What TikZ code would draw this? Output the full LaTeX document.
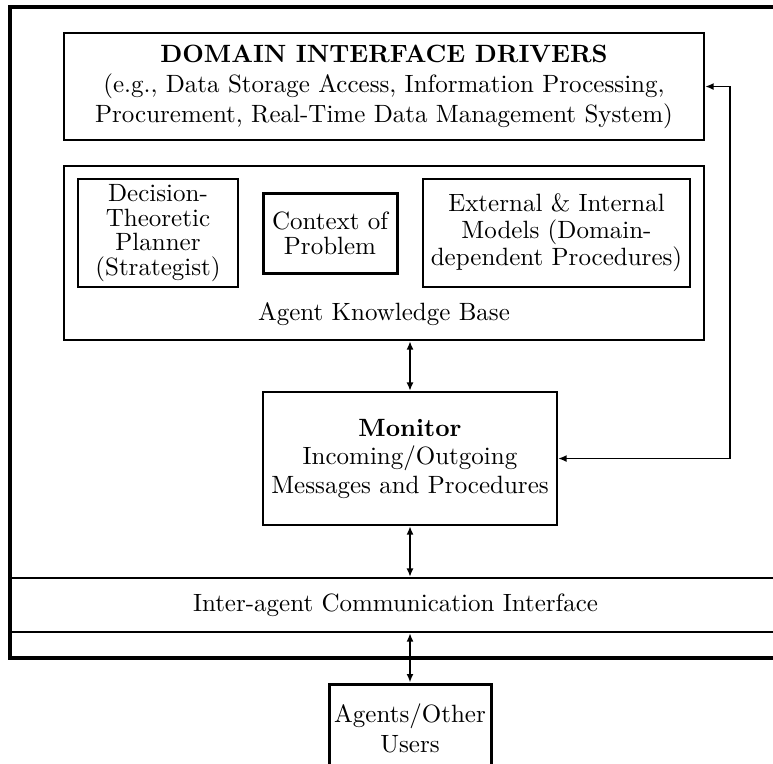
\documentclass[tikz,border=0pt]{standalone}
\usepackage{amsmath}
\usepackage{tikz}
\usetikzlibrary{arrows.meta}

\begin{document}
\begin{tikzpicture}[x=0.4pt, y=-0.4pt, thick,
    box/.style={draw, line width=0.9pt, align=center, inner sep=0pt},
    heavybox/.style={box, line width=1.2pt},
    link/.style={line width=0.75pt, {Latex[length=3.4pt,width=2.8pt]}-{Latex[length=3.4pt,width=2.8pt]}}]
          % Page size and crop
          \useasboundingbox (0,0) rectangle (773,763);
          \clip (0,0) rectangle (773,763);
          % Draw outer frame
          \draw[line width=1.25pt] (10,7) rectangle (781,658);
          % Domain drivers
          \node[box, minimum width=256pt, minimum height=42.8pt, font={\fontsize{10}{12}\selectfont}] (domain) at (384,86.5)
            {\textbf{DOMAIN INTERFACE DRIVERS}\\(e.g., Data Storage Access, Information Processing,\\Procurement, Real-Time Data Management System)};
          % Knowledge base and its parts
          \node[box, minimum width=256pt, minimum height=69.6pt,
            label={[anchor=center, yshift=10.8pt]south:Agent Knowledge Base}] (kb) at (384,253) {};
          \node[box, minimum width=64pt, minimum height=43.2pt, font={\fontsize{10}{9.8}\selectfont}] (planner) at (158,233)
            {Decision-\\Theoretic\\Planner\\(Strategist)};
          \node[heavybox, minimum width=53.6pt, minimum height=32pt, font={\fontsize{10}{10}\selectfont}] (context) at (330,233)
            {Context of\\Problem};
          \node[box, minimum width=106.8pt, minimum height=43.2pt, font={\fontsize{10}{10.8}\selectfont}] (models) at (556.5,233)
            {External \& Internal\\Models (Domain-\\dependent Procedures)};
          % Monitor
          \node[box, minimum width=117.6pt, minimum height=53.2pt, font={\fontsize{10}{11.4}\selectfont}] (monitor) at (410,458.5)
            {\textbf{Monitor}\\Incoming/Outgoing\\Messages and Procedures};
          % Communication interface
          \node[box, minimum width=308.4pt, minimum height=21.6pt] (comm) at (395.5,605)
            {Inter-agent Communication Interface};
          % Other agents
          \node[heavybox, minimum width=64.8pt, minimum height=35.2pt, font={\fontsize{10}{12}\selectfont}] (agents) at (410,728)
            {Agents/Other\\Users};
          % Connectors
          \draw[link] (kb.south -| monitor.north) -- (monitor.north);
          \draw[link] (monitor.south) -- (monitor.south |- comm.north);
          \draw[link] (agents.north |- comm.south) -- (agents.north);
          \draw[link] (domain.east) -- ++(25,0) |- (monitor.east);
        \end{tikzpicture}
\end{document}
